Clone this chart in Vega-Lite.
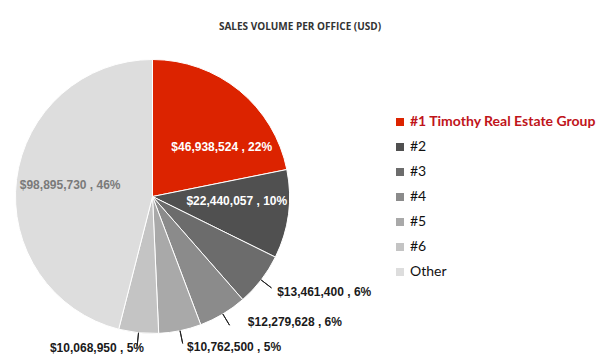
{
  "$schema": "https://vega.github.io/schema/vega-lite/v6.json",
  "width": 305,
  "height": 273,
  "autosize": {"type": "none"},
  "padding": {"left": 0, "top": 60, "right": 295, "bottom": 24},
  "background": "white",
  "title": {
    "text": "SALES VOLUME PER OFFICE (USD)",
    "anchor": "middle",
    "dx": 147.5,
    "font": "Open Sans",
    "fontSize": 10,
    "fontWeight": "bold",
    "color": "#333333",
    "offset": 26
  },
  "config": {"view": {"stroke": null}},
  "data": {
    "values": [
      {"name": "#1 Timothy Real Estate Group", "order": 1, "value": 46938524, "label": "$46,938,524 , 22%"},
      {"name": "#2", "order": 2, "value": 22440057, "label": "$22,440,057 , 10%"},
      {"name": "#3", "order": 3, "value": 13461400, "label": "$13,461,400 , 6%"},
      {"name": "#4", "order": 4, "value": 12279628, "label": "$12,279,628 , 6%"},
      {"name": "#5", "order": 5, "value": 10762500, "label": "$10,762,500 , 5%"},
      {"name": "#6", "order": 6, "value": 10068950, "label": "$10,068,950 , 5%"},
      {"name": "Other", "order": 7, "value": 98895730, "label": "$98,895,730 , 46%"}
    ]
  },
  "encoding": {
    "theta": {"field": "value", "type": "quantitative", "stack": true},
    "order": {"field": "order", "type": "quantitative", "sort": "ascending"}
  },
  "layer": [
    {
      "mark": {"type": "arc", "radius": 137, "stroke": "white", "strokeWidth": 1},
      "encoding": {
        "color": {
          "field": "name",
          "type": "nominal",
          "scale": {
            "domain": ["#1 Timothy Real Estate Group", "#2", "#3", "#4", "#5", "#6", "Other"],
            "range": ["#dc2300", "#505050", "#6c6c6c", "#8b8b8b", "#a9a9a9", "#c4c4c4", "#dddddd"]
          },
          "legend": {
            "orient": "none",
            "legendX": 393,
            "legendY": 55,
            "title": null,
            "symbolType": "square",
            "symbolSize": 64,
            "symbolStrokeWidth": 0,
            "labelFont": "Lato",
            "labelFontSize": 14,
            "labelColor": {"expr": "datum.value === '#1 Timothy Real Estate Group' ? '#c0141a' : '#111111'"},
            "labelFontWeight": {"expr": "datum.value === '#1 Timothy Real Estate Group' ? 'bold' : 'normal'"},
            "rowPadding": 11,
            "labelOffset": 3,
            "labelLimit": 300
          }
        }
      }
    },
    {
      "mark": {"type": "arc", "radius": 150, "radius2": 137, "padAngle": 1.5, "fillOpacity": 0, "stroke": "#222222", "strokeWidth": 1},
      "encoding": {
        "strokeOpacity": {"condition": {"test": "datum.order >= 3 && datum.order <= 6", "value": 1}, "value": 0}
      }
    },
    {
      "mark": {"type": "text", "radius": 84, "dx": 16, "dy": 15.5, "font": "Liberation Sans", "fontWeight": "bold", "fontSize": 12, "fill": "white"},
      "encoding": {"text": {"condition": {"test": "datum.order === 1", "field": "label"}, "value": ""}}
    },
    {
      "mark": {"type": "text", "radius": 84, "dx": 1, "dy": -6, "font": "Liberation Sans", "fontWeight": "bold", "fontSize": 12, "fill": "white"},
      "encoding": {"text": {"condition": {"test": "datum.order === 2", "field": "label"}, "value": ""}}
    },
    {
      "mark": {"type": "text", "radius": 84, "dx": 1, "dy": -1, "font": "Liberation Sans", "fontWeight": "bold", "fontSize": 12, "fill": "#7a7a7a"},
      "encoding": {"text": {"condition": {"test": "datum.order === 7", "field": "label"}, "value": ""}}
    },
    {
      "mark": {"type": "text", "radius": 137, "dx": 16, "dy": 12, "align": "left", "font": "Liberation Sans", "fontWeight": "bold", "fontSize": 12, "fill": "#1a1a1a"},
      "encoding": {"text": {"condition": {"test": "datum.order === 3", "field": "label"}, "value": ""}}
    },
    {
      "mark": {"type": "text", "radius": 137, "dx": 25, "dy": 8, "align": "left", "font": "Liberation Sans", "fontWeight": "bold", "fontSize": 12, "fill": "#1a1a1a"},
      "encoding": {"text": {"condition": {"test": "datum.order === 4", "field": "label"}, "value": ""}}
    },
    {
      "mark": {"type": "text", "radius": 137, "dx": 7, "dy": 16, "align": "left", "font": "Liberation Sans", "fontWeight": "bold", "fontSize": 12, "fill": "#1a1a1a"},
      "encoding": {"text": {"condition": {"test": "datum.order === 5", "field": "label"}, "value": ""}}
    },
    {
      "mark": {"type": "text", "radius": 137, "dx": 5.5, "dy": 15, "align": "right", "font": "Liberation Sans", "fontWeight": "bold", "fontSize": 12, "fill": "#1a1a1a"},
      "encoding": {"text": {"condition": {"test": "datum.order === 6", "field": "label"}, "value": ""}}
    }
  ]
}
